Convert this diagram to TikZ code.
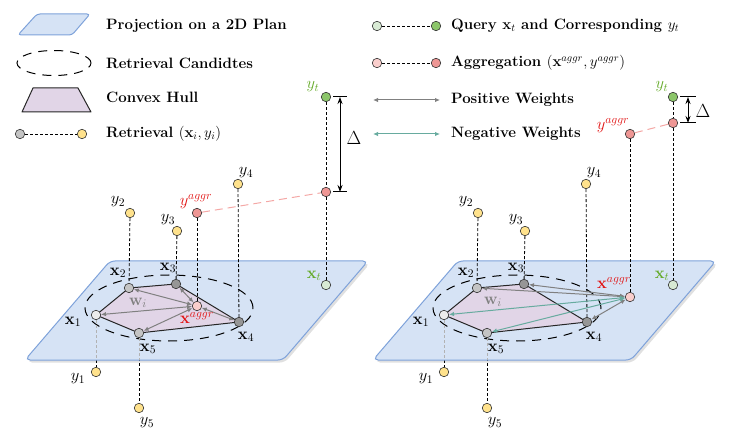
\RequirePackage{fix-cm}
\documentclass[tikz,border=0pt]{standalone}
\usepackage{amsmath}
\usetikzlibrary{arrows.meta,calc}
\pgfdeclarelayer{bg}\pgfdeclarelayer{planel}\pgfdeclarelayer{mid}
\pgfsetlayers{bg,planel,mid,main}
\definecolor{planefill}{RGB}{214,227,245}
\definecolor{planedraw}{RGB}{126,162,218}
\definecolor{hullfill}{RGB}{225,213,231}
\definecolor{yelfill}{RGB}{255,226,140}
\definecolor{lgryfill}{RGB}{236,236,236}
\definecolor{gryfill}{RGB}{196,196,196}
\definecolor{dgryfill}{RGB}{150,150,150}
\definecolor{lpnkfill}{RGB}{250,206,204}
\definecolor{pnkfill}{RGB}{238,150,148}
\definecolor{lgrnfill}{RGB}{216,234,212}
\definecolor{grnfill}{RGB}{140,198,106}
\definecolor{pinkline}{RGB}{244,168,166}
\definecolor{posgray}{RGB}{128,128,128}
\definecolor{negteal}{RGB}{103,171,159}
\definecolor{redtxt}{RGB}{225,20,20}
\definecolor{grntxt}{RGB}{100,170,40}
\begin{document}
\begin{tikzpicture}[x=1pt,y=-1pt,
  font=\fontsize{16.5}{19}\selectfont,
  pnt/.style={circle, draw=black!80, line width=0.6pt, minimum size=9.5pt, inner sep=0pt},
  ylw/.style={pnt, fill=yelfill},
  lgry/.style={pnt, fill=lgryfill},
  gry/.style={pnt, fill=gryfill},
  dgry/.style={pnt, fill=dgryfill},
  lpnk/.style={pnt, fill=lpnkfill},
  pnk/.style={pnt, fill=pnkfill},
  lgrn/.style={pnt, fill=lgrnfill},
  grn/.style={pnt, fill=grnfill},
  vdash/.style={dash pattern=on 3pt off 2pt, line width=0.8pt},
  elldash/.style={dash pattern=on 9pt off 7pt, line width=1pt},
  pinkdash/.style={draw=pinkline, dash pattern=on 8pt off 5pt, line width=1pt},
  posw/.style={draw=posgray, line width=1pt, {Latex[length=5pt,width=4.5pt]}-{Latex[length=5pt,width=4.5pt]}},
  negw/.style={draw=negteal, line width=1pt, {Latex[length=5pt,width=4.5pt]}-{Latex[length=5pt,width=4.5pt]}},
  hull/.style={draw=black!85, fill=hullfill, line width=1pt, line join=round},
  plane/.style={draw=planedraw, fill=planefill, line width=1pt, rounded corners=5pt},
  shadowst/.style={fill=black, opacity=0.12, rounded corners=5pt},
  deltaarr/.style={line width=1pt, {Stealth[length=7pt,width=5pt]}-{Stealth[length=7pt,width=5pt]}},
  tick/.style={line width=1pt},
  lbl/.style={inner sep=0pt},
  legtxt/.style={anchor=west, inner sep=0pt, font=\fontsize{15}{18}\selectfont\bfseries}
]
\useasboundingbox (0,0) rectangle (747,438);

% ---------------- legend ----------------
\begin{pgfonlayer}{planel}
\draw[plane, rounded corners=3pt] (37,14) -- (90,14) -- (72,35) -- (18,35) -- cycle;
\end{pgfonlayer}
\coordinate (lgE) at (54,63);
\draw[elldash] (lgE) ellipse [x radius=37pt, y radius=12.5pt];
\draw[hull] (33,88) -- (78,88) -- (91,112) -- (22,112) -- cycle;
\node[gry] (lgA) at (20,134) {};
\node[ylw] (lgB) at (82,134) {};
\draw[vdash] (lgA) -- (lgB);
\node[legtxt] (t1) at (106,26) {Projection on a 2D Plan};
\node[legtxt] (t2) at (106,63) {Retrieval Candidtes};
\node[legtxt] (t3) at (106,97) {Convex Hull};
\node[legtxt] (t4) at (106,134) {Retrieval $(\mathbf{x}_i, y_i)$};

\node[lgrn] (lgC) at (377,26) {};
\node[grn] (lgD) at (436,26) {};
\draw[vdash] (lgC) -- (lgD);
\node[lpnk] (lgF) at (377,63) {};
\node[pnk] (lgG) at (436,63) {};
\draw[vdash] (lgF) -- (lgG);
\coordinate (lgH1) at (373,100); \coordinate (lgH2) at (440,100);
\draw[posw] (lgH1) -- (lgH2);
\coordinate (lgI1) at (373,134); \coordinate (lgI2) at (440,134);
\draw[negw] (lgI1) -- (lgI2);
\node[legtxt] (t5) at (451,26) {Query $\mathbf{x}_t$ and Corresponding $y_t$};
\node[legtxt] (t6) at (451,63) {Aggregation $(\mathbf{x}^{aggr}, y^{aggr})$};
\node[legtxt] (t7) at (451,100) {Positive Weights};
\node[legtxt] (t8) at (451,134) {Negative Weights};

% ---------------- left panel ----------------
\coordinate (LTL) at (110,261); \coordinate (LTR) at (368,261);
\coordinate (LBR) at (283,360); \coordinate (LBL) at (25,360);
\begin{pgfonlayer}{bg}
\fill[shadowst] ($(LTL)+(2,2.5)$) -- ($(LTR)+(2,2.5)$) -- ($(LBR)+(2,2.5)$) -- ($(LBL)+(2,2.5)$) -- cycle;
\end{pgfonlayer}
\begin{pgfonlayer}{planel}
\draw[plane] (LTL) -- (LTR) -- (LBR) -- (LBL) -- cycle;
\end{pgfonlayer}

\node[lgry] (Lx1) at (96,315) {};
\node[gry]  (Lx2) at (129,288) {};
\node[dgry] (Lx3) at (176,284) {};
\node[dgry] (Lx4) at (239,322) {};
\node[gry]  (Lx5) at (139,333) {};
\node[lpnk] (Lxa) at (197,306) {};
\node[lgrn] (Lxt) at (326,285) {};
\node[ylw] (Ly1) at (96,372) {};
\node[ylw] (Ly2) at (130,213) {};
\node[ylw] (Ly3) at (177,231) {};
\node[ylw] (Ly4) at (238,184) {};
\node[ylw] (Ly5) at (139,408) {};
\node[pnk] (Lya) at (197,213) {};
\node[pnk] (Lyp) at (326,192) {};
\node[grn] (Lyt) at (326,97) {};

\coordinate (Lec) at (169,308);
\begin{pgfonlayer}{mid}
\draw[elldash] (Lec) ellipse [x radius=84pt, y radius=33pt];
\draw[hull] (Lx1.center) -- (Lx2.center) -- (Lx3.center) -- (Lx4.center) -- (Lx5.center) -- cycle;
\end{pgfonlayer}
\begin{pgfonlayer}{bg}
\draw[vdash] (Lx1) -- (Ly1);
\draw[vdash] (Lx5) -- (Ly5);
\end{pgfonlayer}
\draw[vdash, draw=black!30] (Lx1) -- (Lx1 |- LBL);
\draw[vdash, draw=black!30] (Lx5) -- (Lx5 |- LBL);
\draw[vdash] (Ly2) -- (Lx2);
\draw[vdash] (Ly3) -- (Lx3);
\draw[vdash] (Ly4) -- (Lx4);
\draw[vdash] (Lya) -- (Lxa);
\draw[vdash] (Lyt) -- (Lyp);
\draw[vdash] (Lyp) -- (Lxt);
\draw[pinkdash] (Lya) -- (Lyp);
\draw[posw] (Lxa) -- (Lx1);
\draw[posw] (Lxa) -- (Lx2);
\draw[posw] (Lxa) -- (Lx3);
\draw[posw] (Lxa) -- (Lx4);
\draw[posw] (Lxa) -- (Lx5);

\coordinate (Ldt) at (340,97); \coordinate (Ldb) at (340,192);
\draw[deltaarr] (Ldt) -- (Ldb);
\draw[tick] ([xshift=-7pt]Ldt) -- ([xshift=7pt]Ldt);
\draw[tick] ([xshift=-7pt]Ldb) -- ([xshift=7pt]Ldb);
\node[lbl] (LD) at (354,138) {\fontsize{19}{21}\selectfont$\Delta$};

\node[lbl] (lLx1) at (73,322) {$\mathbf{x}_1$};
\node[lbl] (lLx2) at (118,273) {$\mathbf{x}_2$};
\node[lbl] (lLx3) at (168,268) {$\mathbf{x}_3$};
\node[lbl] (lLx4) at (246,337) {$\mathbf{x}_4$};
\node[lbl] (lLx5) at (148,349) {$\mathbf{x}_5$};
\node[lbl, text=redtxt] (lLxa) at (197,318) {$\mathbf{x}^{aggr}$};
\node[lbl, text=grntxt] (lLxt) at (314,276) {$\mathbf{x}_t$};
\node[lbl, text=black!50] (lLw) at (138,303) {$\mathbf{w}_i$};
\node[lbl] (lLy1) at (78,379) {$y_1$};
\node[lbl] (lLy2) at (118,202) {$y_2$};
\node[lbl] (lLy3) at (168,220) {$y_3$};
\node[lbl] (lLy4) at (246,173) {$y_4$};
\node[lbl] (lLy5) at (147,423) {$y_5$};
\node[lbl, text=redtxt] (lLya) at (196,202) {$y^{aggr}$};
\node[lbl, text=grntxt] (lLyt) at (313,87) {$y_t$};

% ---------------- right panel ----------------
\coordinate (RTL) at (458,261); \coordinate (RTR) at (716,261);
\coordinate (RBR) at (631,360); \coordinate (RBL) at (373,360);
\begin{pgfonlayer}{bg}
\fill[shadowst] ($(RTL)+(2,2.5)$) -- ($(RTR)+(2,2.5)$) -- ($(RBR)+(2,2.5)$) -- ($(RBL)+(2,2.5)$) -- cycle;
\end{pgfonlayer}
\begin{pgfonlayer}{planel}
\draw[plane] (RTL) -- (RTR) -- (RBR) -- (RBL) -- cycle;
\end{pgfonlayer}

\node[lgry] (Rx1) at (444,315) {};
\node[gry]  (Rx2) at (477,288) {};
\node[dgry] (Rx3) at (524,284) {};
\node[dgry] (Rx4) at (587,322) {};
\node[gry]  (Rx5) at (487,333) {};
\node[lpnk] (Rxa) at (630,297) {};
\node[lgrn] (Rxt) at (673,285) {};
\node[ylw] (Ry1) at (444,372) {};
\node[ylw] (Ry2) at (478,213) {};
\node[ylw] (Ry3) at (525,231) {};
\node[ylw] (Ry4) at (586,184) {};
\node[ylw] (Ry5) at (487,408) {};
\node[pnk] (Rya) at (630,134) {};
\node[pnk] (Ryp) at (673,123) {};
\node[grn] (Ryt) at (673,97) {};

\coordinate (Rec) at (517,308);
\begin{pgfonlayer}{mid}
\draw[elldash] (Rec) ellipse [x radius=84pt, y radius=33pt];
\draw[hull] (Rx1.center) -- (Rx2.center) -- (Rx3.center) -- (Rx4.center) -- (Rx5.center) -- cycle;
\end{pgfonlayer}
\begin{pgfonlayer}{bg}
\draw[vdash] (Rx1) -- (Ry1);
\draw[vdash] (Rx5) -- (Ry5);
\end{pgfonlayer}
\draw[vdash, draw=black!30] (Rx1) -- (Rx1 |- RBL);
\draw[vdash, draw=black!30] (Rx5) -- (Rx5 |- RBL);
\draw[vdash] (Ry2) -- (Rx2);
\draw[vdash] (Ry3) -- (Rx3);
\draw[vdash] (Ry4) -- (Rx4);
\draw[vdash] (Rya) -- (Rxa);
\draw[vdash] (Ryt) -- (Ryp);
\draw[vdash] (Ryp) -- (Rxt);
\draw[pinkdash] (Rya) -- (Ryp);
\draw[posw] (Rxa) -- (Rx2);
\draw[posw] (Rxa) -- (Rx3);
\draw[posw] (Rxa) -- (Rx4);
\draw[negw] (Rxa) -- (Rx1);
\draw[negw] (Rxa) -- (Rx5);

\coordinate (Rdt) at (688,97); \coordinate (Rdb) at (688,123);
\draw[deltaarr] (Rdt) -- (Rdb);
\draw[tick] ([xshift=-8pt]Rdt) -- ([xshift=8pt]Rdt);
\draw[tick] ([xshift=-8pt]Rdb) -- ([xshift=8pt]Rdb);
\node[lbl] (RD) at (703,111) {\fontsize{19}{21}\selectfont$\Delta$};

\node[lbl] (lRx1) at (421,322) {$\mathbf{x}_1$};
\node[lbl] (lRx2) at (466,273) {$\mathbf{x}_2$};
\node[lbl] (lRx3) at (516,268) {$\mathbf{x}_3$};
\node[lbl] (lRx4) at (594,337) {$\mathbf{x}_4$};
\node[lbl] (lRx5) at (496,349) {$\mathbf{x}_5$};
\node[lbl, text=redtxt] (lRxa) at (614,283) {$\mathbf{x}^{aggr}$};
\node[lbl, text=grntxt] (lRxt) at (662,276) {$\mathbf{x}_t$};
\node[lbl, text=black!50] (lRw) at (493,302) {$\mathbf{w}_i$};
\node[lbl] (lRy1) at (426,379) {$y_1$};
\node[lbl] (lRy2) at (466,202) {$y_2$};
\node[lbl] (lRy3) at (516,220) {$y_3$};
\node[lbl] (lRy4) at (594,173) {$y_4$};
\node[lbl] (lRy5) at (495,423) {$y_5$};
\node[lbl, text=redtxt] (lRya) at (613,126) {$y^{aggr}$};
\node[lbl, text=grntxt] (lRyt) at (662,87) {$y_t$};
\end{tikzpicture}
\end{document}
